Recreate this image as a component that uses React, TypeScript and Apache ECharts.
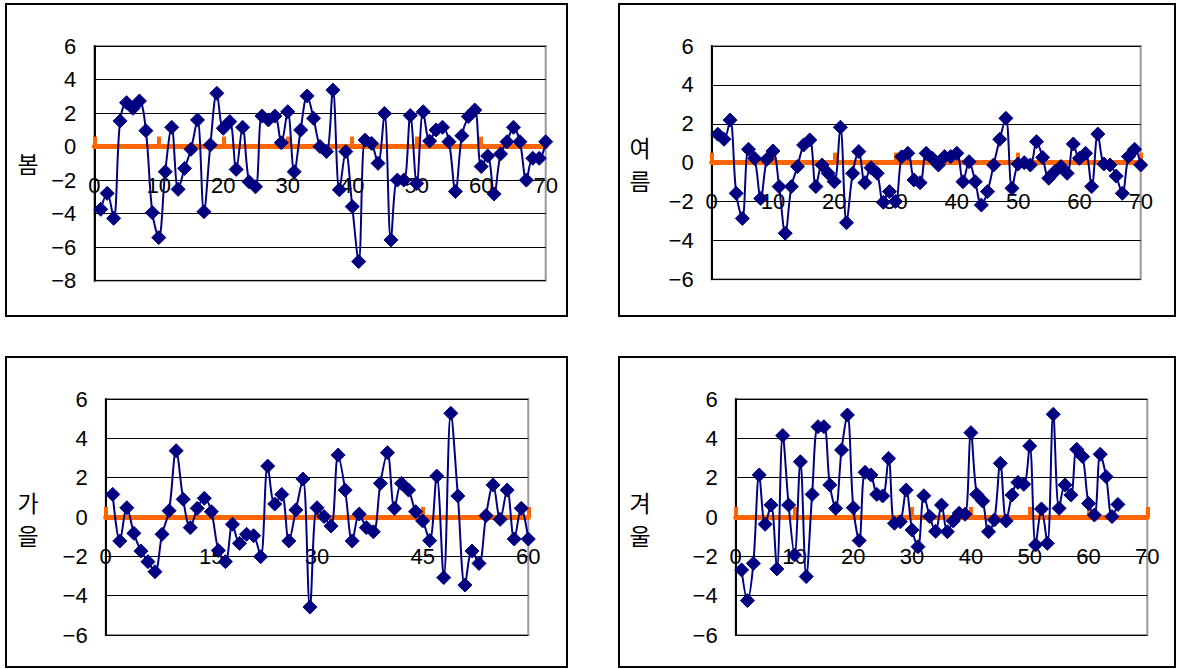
import { useEffect, useRef } from "react";
import * as echarts from "echarts";

// 봄 (spring) values, x = 1..70
const springValues = [
  -3.74, -2.79, -4.28, 1.53, 2.62, 2.28, 2.72, 0.95, -3.94, -5.43,
  -1.5, 1.15, -2.55, -1.3, -0.16, 1.59, -3.88, 0.1, 3.18, 1.09,
  1.49, -1.36, 1.15, -2.1, -2.4, 1.82, 1.59, 1.82, 0.23, 2.08,
  -1.5, 0.99, 3.02, 1.69, 0.0, -0.3, 3.37, -2.58, -0.3, -3.58,
  -6.86, 0.39, 0.19, -1.0, 1.98, -5.57, -2.0, -2.0, 1.85, -2.2,
  2.08, 0.33, 0.99, 1.15, 0.29, -2.68, 0.65, 1.79, 2.18, -1.19,
  -0.56, -2.83, -0.44, 0.29, 1.15, 0.29, -2.0, -0.7, -0.7, 0.29,
];

// 여름 (summer) values, x = 1..70
const summerValues = [
  1.46, 1.2, 2.19, -1.58, -2.87, 0.69, 0.22, -1.84, 0.17, 0.6,
  -1.23, -3.63, -1.23, -0.2, 0.91, 1.17, -1.23, -0.12, -0.55, -0.98,
  1.82, -3.09, -0.55, 0.57, -1.03, -0.26, -0.55, -2.04, -1.49, -2.0,
  0.3, 0.48, -0.89, -1.03, 0.48, 0.22, -0.12, 0.31, 0.31, 0.48,
  -0.98, 0.05, -0.98, -2.18, -1.49, -0.12, 1.2, 2.28, -1.32, -0.07,
  0.0, -0.12, 1.08, 0.27, -0.8, -0.46, -0.2, -0.55, 0.96, 0.22,
  0.48, -1.23, 1.47, -0.07, -0.12, -0.69, -1.58, 0.31, 0.69, -0.12,
];

// 가을 (autumn) values, x = 1..60
const autumnValues = [
  1.15, -1.22, 0.47, -0.83, -1.73, -2.27, -2.78, -0.88, 0.32, 3.37,
  0.9, -0.54, 0.44, 0.95, 0.27, -1.7, -2.27, -0.37, -1.34, -0.88,
  -0.95, -2.02, 2.59, 0.66, 1.15, -1.22, 0.36, 1.93, -4.58, 0.47,
  0.02, -0.46, 3.15, 1.37, -1.22, 0.15, -0.54, -0.75, 1.71, 3.27,
  0.44, 1.71, 1.37, 0.27, -0.2, -1.2, 2.08, -3.08, 5.27, 1.07,
  -3.46, -1.73, -2.36, 0.07, 1.63, -0.12, 1.37, -1.12, 0.44, -1.12,
];

// 겨울 (winter) values, x = 1..65
const winterValues = [
  -2.69, -4.25, -2.36, 2.14, -0.37, 0.61, -2.64, 4.14, 0.61, -1.93,
  2.81, -3.03, 1.15, 4.59, 4.59, 1.63, 0.44, 3.41, 5.19, 0.47,
  -1.2, 2.27, 2.14, 1.15, 1.07, 2.98, -0.32, -0.24, 1.37, -0.66,
  -1.51, 1.08, 0.02, -0.73, 0.61, -0.75, -0.2, 0.19, 0.14, 4.29,
  1.15, 0.81, -0.75, -0.15, 2.73, -0.2, 1.12, 1.76, 1.66, 3.61,
  -1.42, 0.41, -1.34, 5.22, 0.44, 1.63, 1.12, 3.44, 3.07, 0.69,
  0.1, 3.19, 2.05, 0.02, 0.64,
];

const seasonNames = ["봄", "여\n름", "가\n을", "겨\n울"];
const seriesValues = [springValues, summerValues, autumnValues, winterValues];

// axis scales
const xMax = [70, 70, 60, 70];
const xInterval = [10, 10, 15, 10];
const yMin = [-8, -6, -6, -6];
const yMax = [6, 6, 6, 6];
const yInterval = [2, 2, 2, 2];

// layout (pixels)
const grids = [
  { left: 94.3, top: 46, width: 451.4, height: 234.7 },
  { left: 711.7, top: 46, width: 429, height: 233.3 },
  { left: 105.7, top: 399, width: 422.6, height: 236 },
  { left: 735.7, top: 399, width: 411.6, height: 236 },
];
const frames = [
  { x: 6, y: 4, width: 561, height: 312 },
  { x: 619, y: 4, width: 556, height: 312 },
  { x: 6, y: 357, width: 561, height: 310 },
  { x: 619, y: 357, width: 556, height: 310 },
];
const titlePos = [
  [28, 163],
  [640, 163],
  [28, 518],
  [640, 518],
];
// gap between the zero line and the top of the x tick labels
const xLabelGap = 28;

const FONT = '"Liberation Sans", Arial, sans-serif';
const NAVY = "#000080";
const ORANGE = "#ff6600";

export default function App() {
  const ref = useRef<HTMLDivElement>(null);

  useEffect(() => {
    if (!ref.current) return;
    const chart = echarts.init(ref.current, undefined, { renderer: "svg" });

    const fmtY = (v: number) => (v < 0 ? "\u2212" + Math.abs(v) : String(v));

    // labels are laid out from the grid bottom: shift them up to the zero line
    const labelMargin = (i: number) => {
      const g = grids[i];
      const zeroY = g.top + (yMax[i] / (yMax[i] - yMin[i])) * g.height;
      const bottom = g.top + g.height;
      return zeroY + xLabelGap - bottom;
    };

    const option: any = {
      animation: false,
      backgroundColor: "#fff",
      grid: grids.map((g) => ({
        ...g,
        show: true,
        borderColor: "#999",
        borderWidth: 2,
        backgroundColor: "transparent",
        containLabel: false,
      })),
      xAxis: grids.map((_, i) => ({
        type: "value",
        gridIndex: i,
        min: 0,
        max: xMax[i],
        interval: xInterval[i],
        z: 1,
        axisLine: {
          show: true,
          onZero: true,
          lineStyle: { color: ORANGE, width: 5, cap: "round" },
        },
        axisTick: {
          show: true,
          inside: true,
          length: 10,
          lineStyle: { color: ORANGE, width: 4 },
        },
        axisLabel: {
          color: "#000",
          fontSize: 22,
          fontFamily: FONT,
          margin: labelMargin(i),
        },
        splitLine: { show: false },
      })),
      yAxis: grids.map((_, i) => ({
        type: "value",
        gridIndex: i,
        min: yMin[i],
        max: yMax[i],
        interval: yInterval[i],
        axisLine: {
          show: true,
          onZero: false,
          lineStyle: { color: "#000", width: 2 },
        },
        axisTick: {
          show: true,
          inside: true,
          length: 6,
          lineStyle: { color: "#000", width: 1 },
        },
        axisLabel: {
          color: "#000",
          fontSize: 22,
          fontFamily: FONT,
          margin: 18,
          formatter: fmtY,
        },
        splitLine: { show: true, lineStyle: { color: "#000", width: 1 } },
      })),
      series: seriesValues.map((vals, i) => ({
        type: "line",
        xAxisIndex: i,
        yAxisIndex: i,
        data: vals.map((v, k) => [k + 1, v]),
        smooth: 0.35,
        symbol: "diamond",
        symbolSize: 14,
        showSymbol: true,
        lineStyle: { color: NAVY, width: 2 },
        itemStyle: { color: NAVY, borderColor: NAVY },
        z: 3,
      })),
      graphic: [
        ...frames.map((f) => ({
          type: "rect",
          silent: true,
          z: 0,
          shape: f,
          style: { fill: "none", stroke: "#000", lineWidth: 2 },
        })),
        ...seasonNames.map((name, i) => ({
          type: "text",
          silent: true,
          x: titlePos[i][0],
          y: titlePos[i][1],
          style: {
            text: name,
            fill: "#000",
            font: '23px "Noto Sans CJK KR"',
            lineHeight: 33,
            align: "center",
            verticalAlign: "middle",
            textAlign: "center",
            textVerticalAlign: "middle",
          },
        })),
      ],
    };

    chart.setOption(option);
    return () => chart.dispose();
  }, []);

  return (
    <div
      ref={ref}
      style={{ position: "absolute", left: 0, top: 0, width: 1180, height: 669 }}
    />
  );
}
